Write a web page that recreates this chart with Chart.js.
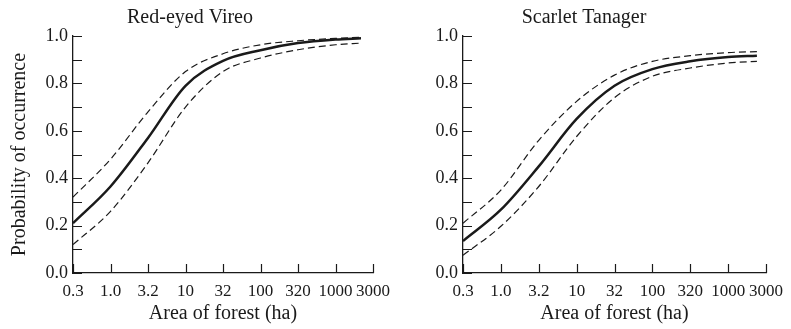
<!DOCTYPE html>
<html>
<head>
<meta charset="utf-8">
<script src="https://cdn.jsdelivr.net/npm/chart.js@4.4.1/dist/chart.umd.min.js"></script>
<style>
  body { margin: 0; background: #fff; }
  #left { position: absolute; left: 0; top: 0; }
  #right { position: absolute; left: 398px; top: 0; }
</style>
</head>
<body>
<canvas id="left" width="398" height="329"></canvas>
<canvas id="right" width="393" height="329"></canvas>
<script>
// x positions are log10(area); ticks are every half decade
const xTickLabels = ['0.3', '1.0', '3.2', '10', '32', '100', '320', '1000', '3000'];
const xVireo = [-0.5, 0, 0.5, 1, 1.5, 2, 2.5, 3, 3.34];
const xTanager = [-0.5, 0, 0.5, 1, 1.5, 2, 2.5, 3, 3.38];

// Red-eyed Vireo
const vireoFit = [0.21, 0.365, 0.57, 0.79, 0.895, 0.94, 0.97, 0.985, 0.99];
const vireoUpper = [0.32, 0.48, 0.68, 0.85, 0.925, 0.963, 0.98, 0.99, 0.995];
const vireoLower = [0.12, 0.26, 0.465, 0.70, 0.85, 0.907, 0.942, 0.963, 0.97];

// Scarlet Tanager
const tanagerFit = [0.135, 0.267, 0.45, 0.65, 0.79, 0.86, 0.893, 0.911, 0.917];
const tanagerUpper = [0.21, 0.35, 0.56, 0.724, 0.835, 0.893, 0.917, 0.93, 0.934];
const tanagerLower = [0.075, 0.197, 0.365, 0.576, 0.74, 0.83, 0.865, 0.886, 0.893];

const ink = '#1a1a1a';
const fontFamily = '"Liberation Serif", "DejaVu Serif", serif';
Chart.defaults.font.family = fontFamily;
Chart.defaults.color = ink;

// tick marks drawn inside the plot, like the original figure
const innerTicks = {
  id: 'innerTicks',
  afterDraw(chart) {
    const { ctx, scales: { x, y } } = chart;
    ctx.save();
    ctx.strokeStyle = ink;
    ctx.lineWidth = 1.2;
    ctx.beginPath();
    x.ticks.forEach(t => {
      const px = Math.round(x.getPixelForValue(t.value)) + 0.5;
      ctx.moveTo(px, x.top);
      ctx.lineTo(px, x.top - 9);
    });
    y.ticks.forEach(t => {
      const py = Math.round(y.getPixelForValue(t.value)) + 0.5;
      ctx.moveTo(y.right, py);
      ctx.lineTo(y.right + 9, py);
    });
    ctx.stroke();
    ctx.restore();
  }
};

function pts(xs, ys) {
  return xs.map((x, i) => ({ x: x, y: ys[i] }));
}

function makeChart(id, title, xs, fit, upper, lower, yWidth, padRight, showYTitle) {
  const line = (data, dashed) => ({
    data: pts(xs, data),
    borderColor: ink,
    borderWidth: dashed ? 1.2 : 2.5,
    borderDash: dashed ? [7, 4] : [],
    pointRadius: 0,
    cubicInterpolationMode: 'monotone',
    fill: false
  });
  return new Chart(document.getElementById(id), {
    type: 'line',
    data: { datasets: [line(upper, true), line(lower, true), line(fit, false)] },
    options: {
      responsive: false,
      animation: false,
      events: [],
      layout: { padding: { right: padRight, top: 0, bottom: 0, left: 0 } },
      plugins: {
        legend: { display: false },
        tooltip: { enabled: false },
        title: {
          display: true,
          text: title,
          color: ink,
          font: { size: 20, weight: 'normal' },
          padding: { top: 6, bottom: 6 }
        }
      },
      scales: {
        x: {
          type: 'linear',
          min: -0.5,
          max: 3.5,
          grid: { display: false, drawTicks: false },
          border: { display: true, color: ink, width: 1.3 },
          ticks: {
            stepSize: 0.5,
            autoSkip: false,
            maxRotation: 0,
            padding: 8,
            color: ink,
            font: { size: 17 },
            callback: (v, i) => xTickLabels[i]
          },
          title: {
            display: true,
            text: 'Area of forest (ha)',
            color: ink,
            font: { size: 20 },
            padding: { top: 2, bottom: 3 }
          },
          afterFit: s => { s.height = 56; }
        },
        y: {
          min: 0,
          max: 1,
          grid: { display: false, drawTicks: false },
          border: { display: true, color: ink, width: 1.3 },
          ticks: {
            stepSize: 0.1,
            autoSkip: false,
            padding: 5,
            color: ink,
            font: { size: 18 },
            callback: (v, i) => (i % 2 === 0 ? v.toFixed(1) : '')
          },
          title: {
            display: showYTitle,
            text: 'Probability of occurrence',
            color: ink,
            font: { size: 20 },
            padding: { top: 8, bottom: 0 }
          },
          afterFit: s => { s.width = yWidth; }
        }
      }
    },
    plugins: [innerTicks]
  });
}

makeChart('left', 'Red-eyed Vireo', xVireo, vireoFit, vireoUpper, vireoLower, 73, 18, true);
makeChart('right', 'Scarlet Tanager', xTanager, tanagerFit, tanagerUpper, tanagerLower, 65, 21, false);
</script>
</body>
</html>
